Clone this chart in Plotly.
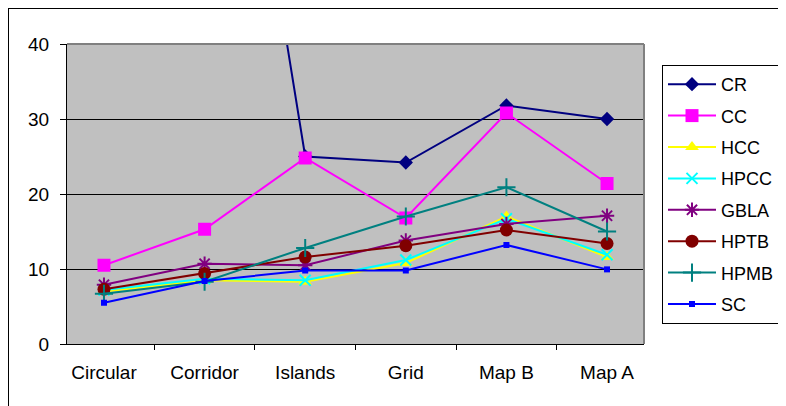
import plotly.graph_objects as go

categories = ["Circular", "Corridor", "Islands", "Grid", "Map B", "Map A"]
CR = [112, 108, 25.0, 24.2, 31.8, 30.0]
CC = [10.5, 15.3, 24.8, 16.8, 30.8, 21.4]
HCC = [7.0, 8.5, 8.3, 10.8, 17.0, 11.6]
HPCC = [7.2, 8.7, 8.5, 11.2, 16.7, 11.9]
GBLA = [7.9, 10.7, 10.5, 13.8, 16.0, 17.1]
HPTB = [7.3, 9.4, 11.6, 13.1, 15.2, 13.4]
HPMB = [6.7, 8.3, 12.8, 17.0, 20.9, 15.0]
SC = [5.5, 8.4, 9.8, 9.8, 13.2, 9.95]

series = [
    ("CR", CR, "#000080", "diamond", 11),
    ("CC", CC, "#FF00FF", "square", 13),
    ("HCC", HCC, "#FFFF00", "triangle-up", 12),
    ("HPCC", HPCC, "#00FFFF", "x-thin-open", 11),
    ("GBLA", GBLA, "#800080", "asterisk-open", 12),
    ("HPTB", HPTB, "#800000", "circle", 13),
    ("HPMB", HPMB, "#008080", "cross-thin-open", 13),
    ("SC", SC, "#0000FF", "square", 6),
]

fig = go.Figure()
for name, vals, color, sym, size in series:
    marker = dict(symbol=sym, size=size, color=color)
    if sym.endswith("open"):
        marker["line"] = dict(color=color, width=2)
    else:
        marker["line"] = dict(width=0)
    fig.add_trace(go.Scatter(
        x=categories, y=vals, name=name, mode="lines+markers",
        line=dict(color=color, width=2), marker=marker, legendgroup=name,
    ))

# page body has an 8px margin: figure origin is at (8, 8)
W, H = 778, 398
L, T = 59, 36
PW, PH = 577, 300
fig.update_layout(
    width=W, height=H,
    margin=dict(l=L, r=W - L - PW, t=T, b=H - T - PH),
    paper_bgcolor="white", plot_bgcolor="#C0C0C0",
    font=dict(family="Liberation Sans, Arial, sans-serif", size=19, color="black"),
    showlegend=True,
    legend=dict(
        xref="container", yref="container",
        x=(662 - 8) / W, y=1 - (65 - 8) / H, xanchor="left", yanchor="top",
        bordercolor="black", borderwidth=1, bgcolor="white",
        font=dict(size=18), tracegroupgap=5, itemwidth=48, maxheight=380,
    ),
    xaxis=dict(
        type="category", showline=True, linecolor="black", linewidth=1,
        ticks="outside", ticklen=5, tickcolor="black", tickson="boundaries",
        showgrid=False, zeroline=False, ticklabelstandoff=11,
    ),
    yaxis=dict(
        range=[0, 40], tickvals=[0, 10, 20, 30, 40], showline=True,
        linecolor="black", linewidth=1, ticks="outside", ticklen=6,
        tickcolor="black", showgrid=True, gridcolor="black", gridwidth=1,
        zeroline=False, ticklabelstandoff=7,
    ),
    shapes=[
        dict(type="line", xref="paper", yref="paper", x0=0, x1=1, y0=1, y1=1,
             line=dict(color="#808080", width=2)),
        dict(type="line", xref="paper", yref="paper", x0=1, x1=1, y0=0, y1=1,
             line=dict(color="#808080", width=2)),
        dict(type="line", xref="paper", yref="paper", x0=-L / PW, x1=(W - L) / PW,
             y0=T / PH + 1, y1=T / PH + 1, line=dict(color="black", width=2)),
        dict(type="line", xref="paper", yref="paper", x0=-L / PW, x1=-L / PW,
             y0=T / PH + 1, y1=-(H - T - PH) / PH, line=dict(color="black", width=2)),
    ],
)

fig.write_html("out.html")
